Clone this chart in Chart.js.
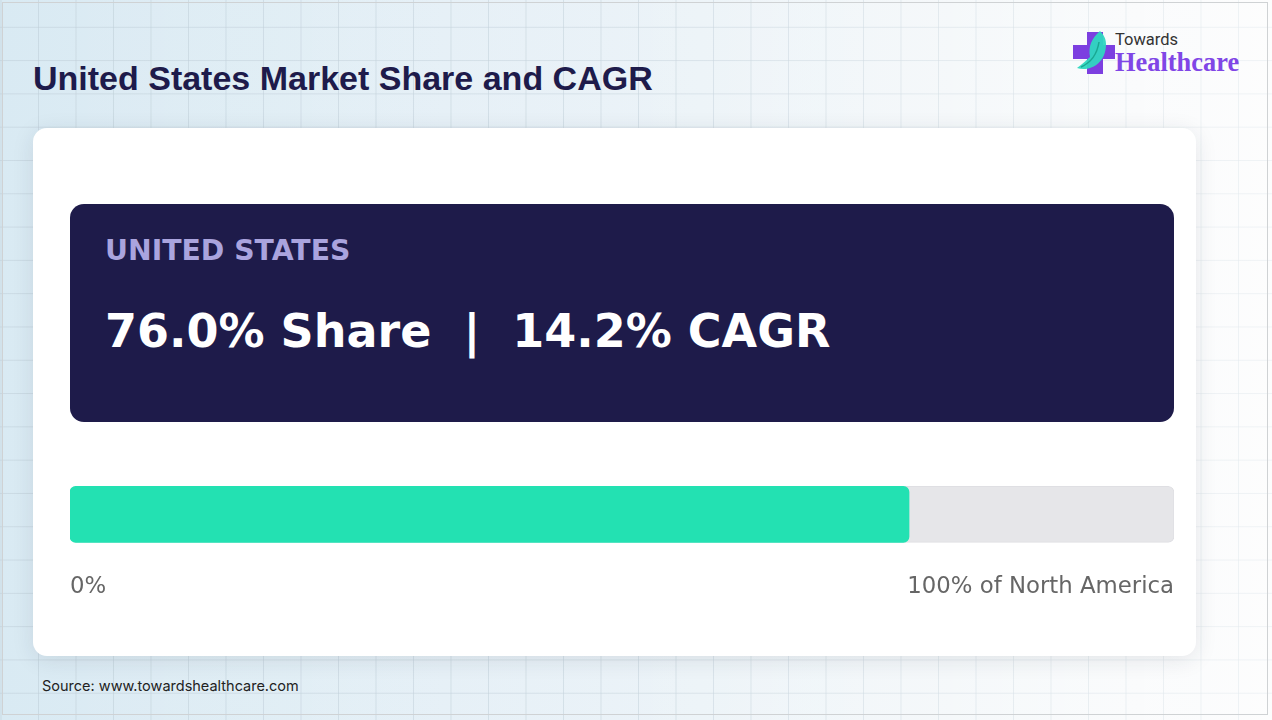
<!DOCTYPE html>
<html>
<head>
<meta charset="utf-8">
<script src="https://cdn.jsdelivr.net/npm/chart.js@4.4.1/dist/chart.umd.min.js"></script>
<style>
  html,body{margin:0;padding:0;}
  body{width:1272px;height:720px;position:relative;overflow:hidden;background:#fff;}
  #bg{position:absolute;left:0;top:0;width:1272px;height:720px;
    background:
      linear-gradient(to right, rgba(190,205,215,0.55) 1px, transparent 1px) 0.5px 0/37.5px 33.3px,
      linear-gradient(to bottom, rgba(190,205,215,0.55) 1px, transparent 1px) 0 -6.5px/37.5px 33.3px,
      linear-gradient(to right, #d9eaf3 0%, #e4eff6 35%, #f0f5f8 75%, #f9fafb 100%);
  }
  #fade{position:absolute;left:0;top:0;width:1272px;height:720px;
    background:linear-gradient(to right, rgba(255,255,255,0) 0%, rgba(255,255,255,0.1) 50%, rgba(255,255,255,0.6) 100%);}
  #frame{position:absolute;left:2px;top:2px;width:1266px;height:713px;border:1px solid #cfd2d4;box-sizing:border-box;}
  #title{position:absolute;left:33px;top:59px;font-family:"Liberation Sans",Arial,sans-serif;font-weight:bold;font-size:34px;color:#1e1b4b;white-space:nowrap;}
  #card{position:absolute;left:33px;top:128px;width:1163px;height:528px;background:#fff;border-radius:14px;
    box-shadow:0 4px 22px rgba(30,40,60,0.10);}
  #hero{position:absolute;left:70px;top:204px;width:1104px;height:218px;background:#1e1b4a;border-radius:14px;}
  #region{position:absolute;left:35px;top:30px;font-family:"DejaVu Sans",sans-serif;font-weight:bold;font-size:28.3px;color:#aaa4de;white-space:nowrap;}
  #stats{position:absolute;left:35px;top:100px;font-family:"DejaVu Sans",sans-serif;font-weight:bold;font-size:46px;color:#fff;white-space:pre;}
  #chartBox{position:absolute;left:70px;top:474px;width:1104px;height:127px;}
  #source{position:absolute;left:42px;top:677px;font-family:Inter,Roboto,sans-serif;font-size:14.5px;color:#222;white-space:nowrap;}
  #logo{position:absolute;left:1070px;top:28px;width:180px;height:52px;}
  #logoT{position:absolute;left:45px;top:2px;font-family:Roboto,"Open Sans",sans-serif;font-size:16.5px;color:#333;}
  #logoH{position:absolute;left:45px;top:19px;font-family:"Liberation Serif","DejaVu Serif",serif;font-weight:bold;font-size:26.4px;color:#8046e6;}
</style>
</head>
<body>
<div id="bg"></div>
<div id="fade"></div>
<div id="frame"></div>
<div id="title"></div>
<div id="logo">
  <svg width="46" height="50" viewBox="0 0 46 50" style="position:absolute;left:0;top:0">
    <path d="M17 4 h16 v13 h12 v14 h-12 v15 h-16 v-15 h-14 v-14 h14 z" fill="#7c3fe0"/>
    <path d="M7 40 C 18 44, 36 37, 36 16 C 36 10, 33 6, 30 3 C 22 10, 18 18, 20 29 C 16 33, 12 36, 7 40 z" fill="#2fd8c0" opacity="0.95"/>
    <path d="M11 39 C 20 35, 27 27, 29 14" stroke="#1aa892" stroke-width="1.5" fill="none"/>
  </svg>
  <div id="logoT">Towards</div>
  <div id="logoH">Healthcare</div>
</div>
<div id="card"></div>
<div id="hero">
  <div id="region"></div>
  <div id="stats"></div>
</div>
<div id="chartBox"><canvas id="c"></canvas></div>
<div id="source">Source: www.towardshealthcare.com</div>
<script>
const titleText = 'United States Market Share and CAGR';
const categories = ['United States'];
const shareValues = [76.0];
const cagrValues = [14.2];
const trackValues = [100];
const tickValues = [0, 100];
const tickLabels = ['0%', '100% of North America'];

document.getElementById('title').textContent = titleText;
document.getElementById('region').textContent = categories[0].toUpperCase();
document.getElementById('stats').textContent =
  shareValues[0].toFixed(1) + '% Share  |  ' + cagrValues[0].toFixed(1) + '% CAGR';

new Chart(document.getElementById('c'), {
  type: 'bar',
  data: {
    labels: categories,
    datasets: [
      { data: shareValues, backgroundColor: '#23e1b2', borderRadius: 6, borderSkipped: false,
        barThickness: 56, grouped: false },
      { data: trackValues, backgroundColor: '#e6e6e9', borderColor: '#dfdfe3', borderWidth: 1,
        borderRadius: 6, borderSkipped: false, barThickness: 56, grouped: false }
    ]
  },
  options: {
    indexAxis: 'y',
    responsive: true,
    maintainAspectRatio: false,
    animation: false,
    layout: { padding: 0 },
    plugins: { legend: { display: false }, tooltip: { enabled: false } },
    scales: {
      y: { display: false },
      x: {
        min: 0, max: 100,
        grid: { display: false, drawTicks: true, tickLength: 19 },
        border: { display: false },
        afterBuildTicks: (axis) => { axis.ticks = tickValues.map(v => ({ value: v })); },
        ticks: {
          align: 'inner',
          padding: 0,
          color: '#666',
          font: { family: 'DejaVu Sans', size: 22.8 },
          callback: (v) => tickLabels[tickValues.indexOf(v)]
        }
      }
    }
  }
});
</script>
</body>
</html>
